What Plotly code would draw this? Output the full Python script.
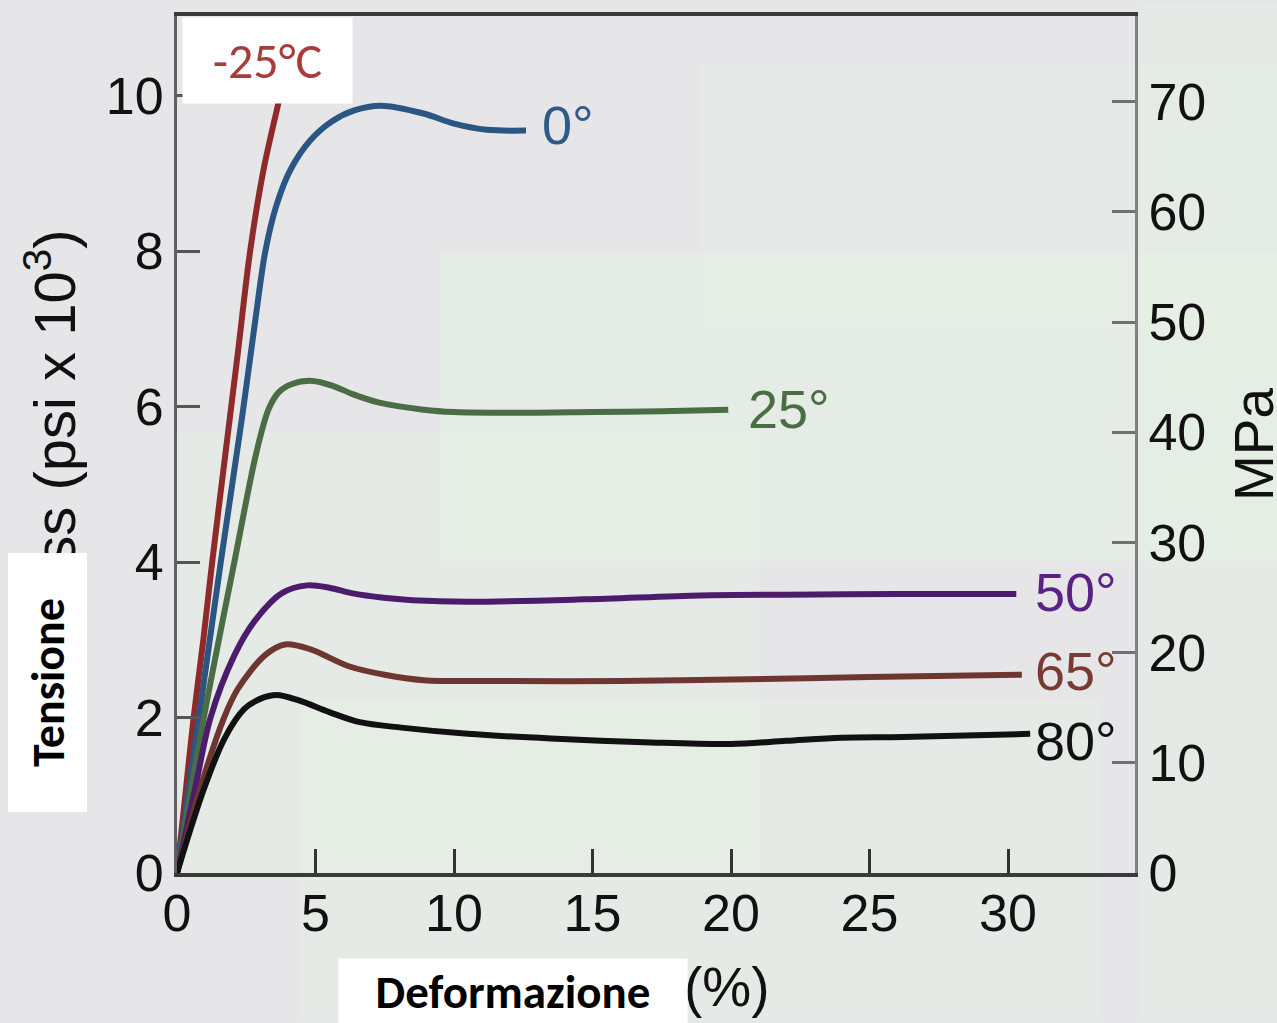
import plotly.graph_objects as go

# ---------------- data ----------------
x_m25 = [0, 0.3, 0.6, 0.95, 1.27, 1.75, 2.2, 2.64, 3.12, 3.66, 4.0]
y_m25 = [0, 1.0, 2.0, 3.0, 4.0, 5.4, 6.7, 8.0, 9.04, 9.9, 10.4]

x_0 = [0, 0.79, 1.58, 2.34, 2.83, 3.19, 3.6, 4.1, 4.8, 5.6, 6.4, 7.35, 8.9, 10.0, 11.2, 12.6]
y_0 = [0, 2.0, 4.0, 5.84, 7.12, 8.0, 8.6, 9.05, 9.42, 9.67, 9.81, 9.87, 9.77, 9.64, 9.56, 9.55]

x_25 = [0, 0.97, 2.07, 2.86, 3.3, 3.66, 4.15, 4.89, 5.6, 6.34, 7.3, 8.9, 10, 12.5, 15, 17.5, 19.9]
y_25 = [0, 2.0, 4.0, 5.4, 5.96, 6.18, 6.29, 6.33, 6.27, 6.16, 6.05, 5.96, 5.93, 5.92, 5.93, 5.94, 5.96]

x_50 = [0, 0.65, 1.21, 2.07, 2.8, 3.79, 4.7, 5.5, 6.3, 7.46, 8.5, 10.5, 14.7, 18.9, 22, 26, 30.3]
y_50 = [0, 1.08, 2.0, 2.8, 3.24, 3.6, 3.7, 3.67, 3.6, 3.54, 3.51, 3.49, 3.52, 3.57, 3.58, 3.59, 3.59]

x_65 = [0, 0.83, 1.7, 2.2, 3.17, 3.9, 4.8, 6.2, 7.5, 8.9, 12, 16, 20, 25, 30.5]
y_65 = [0, 1.08, 2.0, 2.37, 2.8, 2.94, 2.88, 2.66, 2.55, 2.48, 2.47, 2.47, 2.49, 2.52, 2.55]

x_80 = [0, 0.36, 0.97, 1.7, 2.43, 3.0, 3.6, 4.4, 5.5, 6.6, 8.1, 10.5, 13.5, 17.1, 20, 22, 24, 26.2, 30.8]
y_80 = [0, 0.42, 1.08, 1.72, 2.11, 2.24, 2.29, 2.22, 2.07, 1.94, 1.87, 1.79, 1.73, 1.68, 1.66, 1.7, 1.74, 1.75, 1.79]

series = [
    ("-25°C", x_m25, y_m25, "#8e2a2a"),
    ("0°", x_0, y_0, "#2b5683"),
    ("25°", x_25, y_25, "#4a6d45"),
    ("50°", x_50, y_50, "#4b1c6b"),
    ("65°", x_65, y_65, "#6e3631"),
    ("80°", x_80, y_80, "#111111"),
]

label_text = ["0°", "25°", "50°", "65°", "80°"]
label_x = [13.1, 20.55, 30.9, 30.9, 30.9]
label_y = [9.62, 5.97, 3.62, 2.6, 1.7]
label_col = ["#2d5a88", "#4a6d45", "#5a2383", "#7a3a34", "#111111"]

x_ticks = [0, 5, 10, 15, 20, 25, 30]
y_ticks = [0, 2, 4, 6, 8, 10]
mpa_ticks = [0, 10, 20, 30, 40, 50, 60, 70]

# ---------------- layout geometry ----------------
W, H = 1277, 1023
L, R, T, B = 177, 1135, 12, 873
pw, ph = R - L, B - T


def px(xp):
    return (xp - L) / pw


def py(yp):
    return (B - yp) / ph


SANS = "Liberation Sans, Arial, Helvetica, sans-serif"
CAL = "Carlito, Calibri, Lato, Open Sans, sans-serif"

fig = go.Figure()

for name, xs, ys, col in series:
    fig.add_trace(go.Scatter(x=xs, y=ys, mode="lines", name=name,
                             line=dict(color=col, width=6, shape="spline", smoothing=0.9),
                             showlegend=False, hoverinfo="skip"))

# invisible trace to activate the right axis
fig.add_trace(go.Scatter(x=[0], y=[0], yaxis="y2", mode="markers",
                         marker=dict(opacity=0), showlegend=False, hoverinfo="skip"))

for t, xv, yv, c in zip(label_text, label_x, label_y, label_col):
    fig.add_annotation(x=xv, y=yv, xref="x", yref="y", text=t, showarrow=False,
                       xanchor="left", yanchor="middle",
                       font=dict(family=SANS, size=54, color=c))

# soft background blobs
blobs = [
    (440, 250, 1277, 560, "rgba(226,243,224,0.35)"),
    (180, 430, 760, 880, "rgba(228,244,226,0.3)"),
    (700, 60, 1277, 330, "rgba(230,245,228,0.25)"),
    (1140, 0, 1277, 1023, "rgba(228,244,226,0.3)"),
    (300, 700, 1100, 1023, "rgba(232,246,230,0.3)"),
]
for x0, y0, x1, y1, c in blobs:
    fig.add_shape(type="rect", xref="paper", yref="paper",
                  x0=px(x0), x1=px(x1), y0=py(y1), y1=py(y0),
                  fillcolor=c, line=dict(width=0), layer="below")

# axis titles (original, partly covered)
fig.add_annotation(xref="paper", yref="paper", x=px(50), y=py(224),
                   text="Stress (psi x 10<sup>3</sup>)", textangle=-90, showarrow=False,
                   xanchor="center", yanchor="top",
                   font=dict(family=SANS, size=58, color="#111111"))
fig.add_annotation(xref="paper", yref="paper", x=px(772), y=py(1021),
                   text="Strain (%)", showarrow=False, xanchor="right", yanchor="bottom",
                   font=dict(family=SANS, size=55, color="#111111"))
fig.add_annotation(xref="paper", yref="paper", x=px(1254), y=py(442),
                   text="MPa", textangle=-90, showarrow=False,
                   xanchor="center", yanchor="middle",
                   font=dict(family=SANS, size=55, color="#111111"))

# white overlay boxes with the Italian labels
fig.add_annotation(xref="paper", yref="paper", x=px(182), y=py(13),
                   xanchor="left", yanchor="top", text="-25°C", showarrow=False,
                   width=169, height=85, bgcolor="white", borderpad=0,
                   align="center", valign="middle",
                   font=dict(family=CAL, size=50, color="#a83b3b"))
fig.add_annotation(xref="paper", yref="paper", x=px(8), y=py(551),
                   xanchor="left", yanchor="top", text="<b>Tensione</b>", showarrow=False,
                   textangle=-90, width=258, height=78, bgcolor="white", borderpad=0,
                   align="center", valign="middle",
                   font=dict(family=CAL, size=46, color="#000000"))
fig.add_annotation(xref="paper", yref="paper", x=px(338), y=py(958),
                   xanchor="left", yanchor="top", text="<b>Deformazione</b>", showarrow=False,
                   width=348, height=65, bgcolor="white", borderpad=0,
                   align="center", valign="middle",
                   font=dict(family=CAL, size=47, color="#000000"))

tickfont = dict(family=SANS, size=52, color="#111111")

fig.update_layout(
    width=W, height=H,
    margin=dict(l=L, r=W - R, t=T, b=H - B, pad=0),
    paper_bgcolor="#e6e6e8",
    plot_bgcolor="rgba(0,0,0,0)",
    xaxis=dict(range=[0, pw / 27.7], tickvals=x_ticks, ticktext=[str(v) for v in x_ticks],
               ticks="inside", ticklen=24, tickwidth=2.5, tickcolor="#333333",
               showline=True, linewidth=3.5, linecolor="#3a3a3a", mirror=True,
               showgrid=False, zeroline=False, tickfont=tickfont, ticklabelstandoff=-8),
    yaxis=dict(range=[0, ph / 78.1], tickvals=y_ticks, ticktext=[str(v) for v in y_ticks],
               ticks="inside", ticklen=23, tickwidth=2.5, tickcolor="#555555",
               showline=True, linewidth=3, linecolor="#606060",
               showgrid=False, zeroline=False, tickfont=tickfont, ticklabelstandoff=0),
    yaxis2=dict(range=[0, ph / 11.07], tickvals=mpa_ticks, ticktext=[str(v) for v in mpa_ticks],
                overlaying="y", side="right", anchor="x",
                ticks="inside", ticklen=23, tickwidth=2.5, tickcolor="#707070",
                showline=True, linewidth=3, linecolor="#808080",
                showgrid=False, zeroline=False, tickfont=tickfont, ticklabelstandoff=0),
)

fig.write_html("out.html", config={"displayModeBar": False},
               post_script="document.body.style.margin='0';")
